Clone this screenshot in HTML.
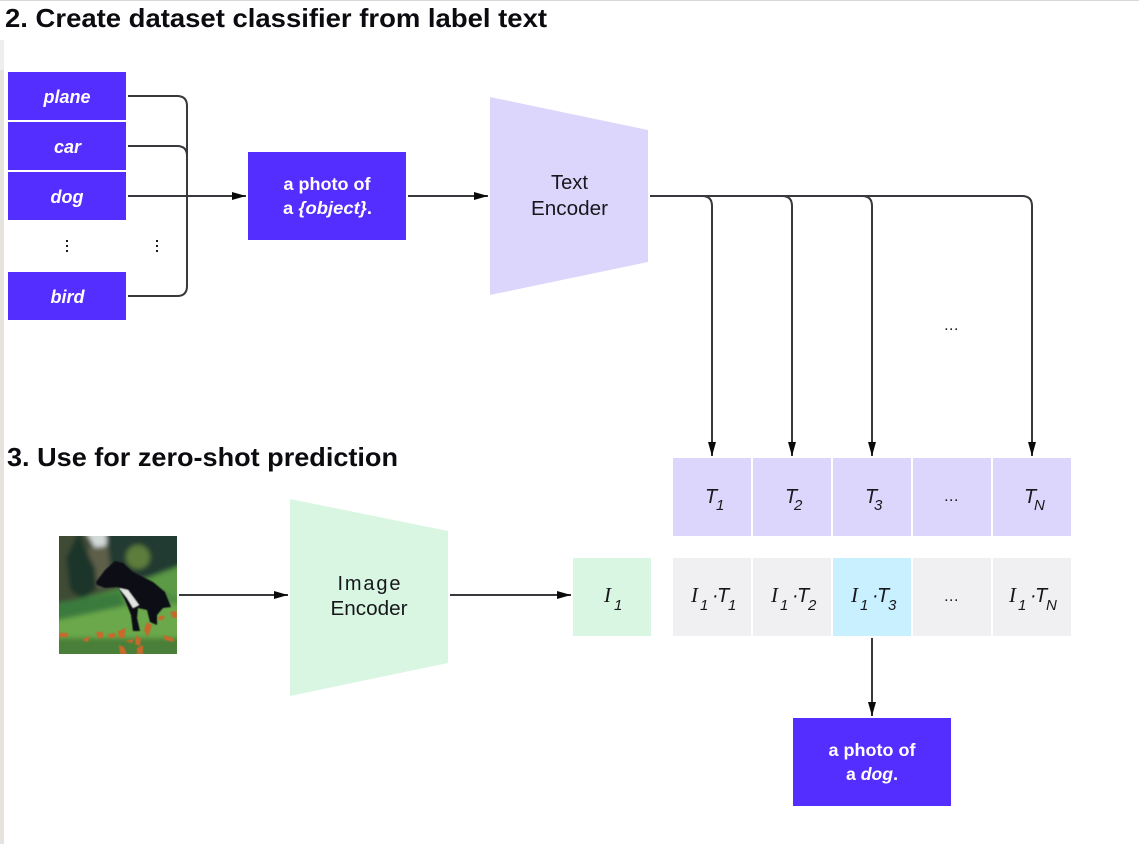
<!DOCTYPE html>
<html lang="en">
<head>
<meta charset="utf-8">
<title>Zero-shot prediction diagram</title>
<style>
html,body{margin:0;padding:0;background:#fff;}
svg{display:block;}
text{font-family:"Liberation Sans",sans-serif;}
.h{font-size:26px;font-weight:bold;fill:#0b0b10;}
.w{font-size:17.500px;font-weight:bold;fill:#fff;text-anchor:middle;}
.wi{font-size:18px;font-weight:bold;font-style:italic;fill:#fff;text-anchor:middle;}
.e{font-size:20px;fill:#17171c;text-anchor:middle;}
.m{font-size:20px;font-style:italic;fill:#17171c;}
text.i{font-family:"Liberation Serif",serif;font-size:21px;font-style:italic;fill:#17171c;}
.s{font-size:15px;font-style:italic;fill:#17171c;}
.d{font-size:16px;fill:#17171c;text-anchor:middle;letter-spacing:0.500px;}
.l{fill:none;stroke:#39393d;stroke-width:2;}
</style>
</head>
<body>
<svg width="1139" height="844" viewBox="0 0 1139 844" xmlns="http://www.w3.org/2000/svg">
<defs>
<marker id="a" markerUnits="userSpaceOnUse" markerWidth="14" markerHeight="10" refX="14" refY="4" orient="auto"><path d="M0 0L14 4L0 8Z" fill="#0a0a0a"/></marker>
<clipPath id="pc"><rect x="59" y="536" width="118" height="118"/></clipPath>
<filter id="b" x="-5%" y="-5%" width="110%" height="110%"><feGaussianBlur stdDeviation="2.500"/></filter>
<filter id="b2" x="-5%" y="-5%" width="110%" height="110%"><feGaussianBlur stdDeviation="0.600"/></filter>
</defs>
<rect width="1139" height="844" fill="#fff"/>
<rect x="0" y="0" width="1139" height="1" fill="#d8d8d8"/>
<rect x="0" y="40" width="4" height="30" fill="#eeeeee"/>
<rect x="0" y="70" width="4" height="774" fill="#e6e3de"/>

<text class="h" x="5" y="27" textLength="542" lengthAdjust="spacingAndGlyphs">2. Create dataset classifier from label text</text>
<text class="h" x="7" y="466" textLength="391" lengthAdjust="spacingAndGlyphs">3. Use for zero-shot prediction</text>

<!-- Label boxes -->
<g fill="#542dff">
<rect x="8" y="72" width="118" height="48"/>
<rect x="8" y="122" width="118" height="48"/>
<rect x="8" y="172" width="118" height="48"/>
<rect x="8" y="272" width="118" height="48"/>
<rect x="248" y="152" width="158" height="88"/>
<rect x="793" y="718" width="158" height="88"/>
</g>
<text class="wi" x="67" y="103">plane</text>
<text class="wi" x="67.500" y="153">car</text>
<text class="wi" x="67" y="203">dog</text>
<text class="wi" x="67.500" y="303">bird</text>
<g fill="#17171c">
<rect x="66" y="240" width="2" height="2"/><rect x="66" y="245" width="2" height="2"/><rect x="66" y="250" width="2" height="2"/>
<rect x="156" y="240" width="2" height="2"/><rect x="156" y="245" width="2" height="2"/><rect x="156" y="250" width="2" height="2"/>
</g>

<!-- Left connectors -->
<path class="l" d="M128 96H177Q187 96 187 106V286Q187 296 177 296H128"/>
<path class="l" d="M128 146H177Q187 146 187 156"/>
<path class="l" d="M128 196H246" marker-end="url(#a)"/>
<text class="w" x="327" y="190" textLength="87" lengthAdjust="spacingAndGlyphs">a photo of</text>
<text class="w" x="327.500" y="214" textLength="89" lengthAdjust="spacingAndGlyphs">a <tspan font-style="italic">{object}</tspan>.</text>
<path class="l" d="M408 196H488" marker-end="url(#a)"/>

<!-- Text encoder -->
<polygon points="490,97 648,130 648,262 490,295" fill="#dcd6fc"/>
<text class="e" x="569.500" y="189" textLength="37" lengthAdjust="spacingAndGlyphs">Text</text>
<text class="e" x="569.500" y="215" textLength="77" lengthAdjust="spacingAndGlyphs">Encoder</text>

<!-- Encoder outputs -->
<path class="l" d="M650 196H1022Q1032 196 1032 206V456" marker-end="url(#a)"/>
<path class="l" d="M702 196Q712 196 712 206V456" marker-end="url(#a)"/>
<path class="l" d="M782 196Q792 196 792 206V456" marker-end="url(#a)"/>
<path class="l" d="M862 196Q872 196 872 206V456" marker-end="url(#a)"/>
<text class="d" x="951.500" y="330">...</text>

<!-- T row -->
<g fill="#dcd6fc">
<rect x="673" y="458" width="78" height="78"/>
<rect x="753" y="458" width="78" height="78"/>
<rect x="833" y="458" width="78" height="78"/>
<rect x="913" y="458" width="78" height="78"/>
<rect x="993" y="458" width="78" height="78"/>
</g>
<text class="m" x="705" y="503">T</text><text class="s" x="716" y="510">1</text>
<text class="m" x="785" y="503">T</text><text class="s" x="794" y="510">2</text>
<text class="m" x="865" y="503">T</text><text class="s" x="874" y="510">3</text>
<text class="d" x="951.500" y="501">...</text>
<text class="m" x="1024" y="503">T</text><text class="s" x="1034" y="510">N</text>

<!-- Product row -->
<g fill="#f0f0f2">
<rect x="673" y="558" width="78" height="78"/>
<rect x="753" y="558" width="78" height="78"/>
<rect x="913" y="558" width="78" height="78"/>
<rect x="993" y="558" width="78" height="78"/>
</g>
<rect x="833" y="558" width="78" height="78" fill="#c9f0fe"/>
<rect x="573" y="558" width="78" height="78" fill="#d9f6e2"/>

<text class="i" x="604" y="602">I</text><text class="s" x="614" y="610">1</text>

<g>
<text class="i" x="691" y="602">I</text><text class="s" x="700" y="610">1</text><text class="m" x="712" y="602">·</text><text class="m" x="717" y="602">T</text><text class="s" x="728" y="610">1</text>
<text class="i" x="771" y="602">I</text><text class="s" x="780" y="610">1</text><text class="m" x="792" y="602">·</text><text class="m" x="797" y="602">T</text><text class="s" x="808" y="610">2</text>
<text class="i" x="851" y="602">I</text><text class="s" x="860" y="610">1</text><text class="m" x="872" y="602">·</text><text class="m" x="877" y="602">T</text><text class="s" x="888" y="610">3</text>
<text class="d" x="951.500" y="601">...</text>
<text class="i" x="1009" y="602">I</text><text class="s" x="1018" y="610">1</text><text class="m" x="1030" y="602">·</text><text class="m" x="1035" y="602">T</text><text class="s" x="1046" y="610">N</text>
</g>

<path class="l" d="M872 638V716" marker-end="url(#a)"/>
<text class="w" x="872" y="756" textLength="87" lengthAdjust="spacingAndGlyphs">a photo of</text>
<text class="w" x="872" y="780" textLength="52" lengthAdjust="spacingAndGlyphs">a <tspan font-style="italic">dog</tspan>.</text>

<!-- Image encoder -->
<polygon points="290,499 448,531 448,663 290,696" fill="#d9f6e2"/>
<text class="e" x="369" y="590" textLength="63" lengthAdjust="spacing">Image</text>
<text class="e" x="369" y="615" textLength="77" lengthAdjust="spacingAndGlyphs">Encoder</text>
<path class="l" d="M179 595H288" marker-end="url(#a)"/>
<path class="l" d="M450 595H571" marker-end="url(#a)"/>

<!-- Photo -->
<g clip-path="url(#pc)">
<rect x="59" y="536" width="118" height="118" fill="#4a5a3c"/>
<g filter="url(#b)">
<rect x="50" y="528" width="136" height="76" fill="#3f4b36"/>
<polygon points="85,530 108,530 106,546 95,548" fill="#d3dad8"/>
<polygon points="88,548 108,546 112,585 92,590" fill="#5d5e48"/>
<polygon points="105,528 186,528 186,567 150,577 112,575" fill="#233a30"/>
<ellipse cx="138" cy="557" rx="12" ry="12" fill="#5c7d3a"/>
<polygon points="79,530 86,550 95,568 97,588 83,600 70,590 66,558" fill="#1a3529"/>
<polygon points="50,606 117,589 147,578 186,563 186,662 50,662" fill="#4f8f42"/>
<polygon points="50,604 120,592 124,606 50,622" fill="#3b7a3c"/>
<polygon points="147,580 186,566 186,600 160,590" fill="#5b9a45"/>
<polygon points="50,622 124,606 186,604 186,662 50,662" fill="#6aa84c"/>
<rect x="50" y="638" width="136" height="24" fill="#4a7f38"/>
</g>
<g filter="url(#b2)">
<polygon points="96,582 105,570 115,561 123,563 133,572 153,582 165,592 171,607 163,608 157,615 157,625 150,622 147,610 138,608 137,618 140,631 133,631 131,615 125,600 118,587 105,588 97,585" fill="#0c0c14"/>
<polygon points="119,588 128,590 139,605 133,608 127,598" fill="#e2e5e0"/>
<g fill="#c8682a">
<polygon points="147,622 152,625 148,637 144,630"/>
<polygon points="136,636 141,638 140,646 135,644"/>
<polygon points="118,631 126,628 124,638 119,638"/>
<polygon points="96,632 103,632 103,638 98,638"/>
<polygon points="108,634 116,633 114,638 109,638"/>
<polygon points="59,633 68,633 68,637 59,637"/>
<polygon points="170,612 177,611 177,618 173,618"/>
<polygon points="137,648 143,645 143,654 137,654"/>
<polygon points="119,645 124,647 127,654 120,654"/>
<polygon points="163,635 173,638 174,642 165,640"/>
<polygon points="159,616 165,616 163,620 158,620"/>
<polygon points="82,640 90,636 88,642"/>
<polygon points="125,641 134,639 132,643"/>
</g>
</g>
</g>
</svg>
</body>
</html>
